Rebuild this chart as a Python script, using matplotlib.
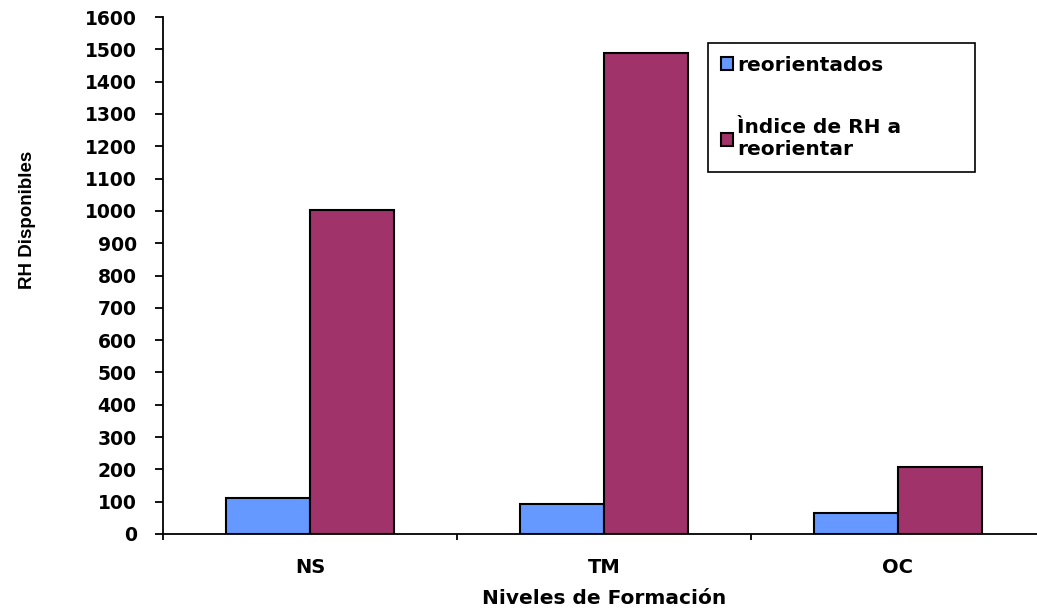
import numpy as np
import matplotlib.pyplot as plt

categories = ["NS", "TM", "OC"]
reorientados = [110, 93, 66]
indice_rh = [1004, 1490, 208]
series_labels = ["reorientados", "Ìndice de RH a\nreorientar"]
y_ticks = list(range(0, 1700, 100))

plt.rcParams["font.family"] = ["DejaVu Sans"]
plt.rcParams["font.weight"] = "bold"

fig = plt.figure(figsize=(10.37, 6.10), dpi=100)
ax = fig.add_axes([0.1572, 0.1246, 0.8505, 0.8475])

x = np.arange(len(categories))
w = 1 / 3.5
ax.bar(x - w / 2, reorientados, w, color="#6699FF", edgecolor="black", lw=1.5,
       label=series_labels[0], zorder=3)
ax.bar(x + w / 2, indice_rh, w, color="#A0336A", edgecolor="black", lw=1.5,
       label=series_labels[1], zorder=3)

ax.set_xlim(-0.5, len(categories) - 0.5)
ax.set_ylim(0, 1600)
ax.set_yticks(y_ticks)
ax.set_yticklabels([str(t) for t in y_ticks], fontsize=13.5, fontweight="bold")
ax.tick_params(axis="y", direction="out", length=6, width=1.3, pad=13)

# category boundaries as major ticks, names as minor ticks
ax.set_xticks(np.arange(-0.5, len(categories) - 0.5, 1.0))
ax.set_xticklabels([])
ax.tick_params(axis="x", which="major", direction="out", length=4.5, width=1.3)
ax.set_xticks(x, minor=True)
ax.set_xticklabels(categories, minor=True, fontsize=14, fontweight="bold")
ax.tick_params(axis="x", which="minor", length=0, pad=17)

for s in ["top", "right"]:
    ax.spines[s].set_visible(False)
for s in ["left", "bottom"]:
    ax.spines[s].set_linewidth(1.3)

ax.set_xlabel("Niveles de Formación", fontsize=14.5, fontweight="bold", labelpad=9)
ax.set_ylabel("RH Disponibles", fontsize=13.5, fontweight="bold",
              family=["Liberation Sans"])
ax.yaxis.set_label_coords(-0.1435, 0.607)

leg = ax.legend(loc="upper left", bbox_to_anchor=(0.618, 0.698, 0.303, 0.252),
                mode="expand", fontsize=14.5,
                handlelength=0.6, handleheight=0.6, handletextpad=0.2,
                labelspacing=2.15, borderpad=0.65, borderaxespad=0,
                fancybox=False, framealpha=1, edgecolor="black")
leg.get_frame().set_linewidth(1.2)
for t in leg.get_texts():
    t.set_fontweight("bold")

fig.savefig("out.png", dpi=100)
